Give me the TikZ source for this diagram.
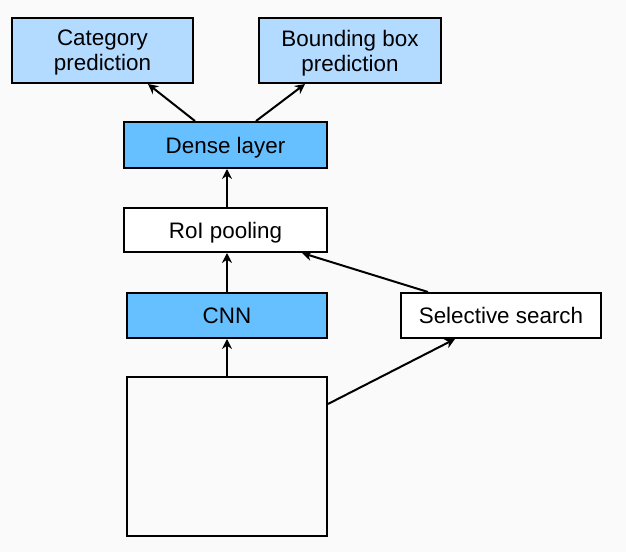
\documentclass[tikz,border=0pt]{standalone}
\usepackage{fontspec}
\setmainfont{Liberation Sans}
\usetikzlibrary{arrows.meta}
\definecolor{bgcol}{RGB}{250,250,250}
\definecolor{lightblue}{RGB}{179,218,255}
\definecolor{midblue}{RGB}{102,192,255}
\begin{document}
\begin{tikzpicture}[x=0.75pt,y=-0.75pt,
    box/.style={draw,line width=1.5pt,fill=white,align=center,inner sep=0pt,text depth=0pt,
        font=\fontsize{16.8pt}{18.8pt}\selectfont},
    arr/.style={-{Stealth[length=7.5pt,width=7.5pt]},line width=1.5pt}]
            \fill[bgcol] (0,0) rectangle (626,552);
            \useasboundingbox (0,0) rectangle (626,552);
            \node[box,fill=lightblue,minimum width=135.75pt,minimum height=48.75pt] (cat) at (102.5,50.5) {Category\\prediction};
            \node[box,fill=lightblue,minimum width=136.5pt,minimum height=48.75pt] (bbox) at (350,50.5) {Bounding box\\prediction};
            \node[box,fill=midblue,minimum width=152.25pt,minimum height=34.5pt] (dense) at (225.5,145) {Dense layer};
            \node[box,minimum width=152.25pt,minimum height=33pt] (roi) at (225.5,230) {RoI pooling};
            \node[box,fill=midblue,minimum width=150pt,minimum height=33.75pt] (cnn) at (227,315.5) {CNN};
            \node[box,minimum width=150pt,minimum height=33.75pt] (sel) at (501,315.5) {Selective search};
            \node[box,fill=bgcol,minimum width=150pt,minimum height=119.25pt] (img) at (227,456.5) {};
            \draw[arr] ([xshift=-22.9pt]dense.north)--([xshift=34.1pt]cat.south);
            \draw[arr] ([xshift=22.9pt]dense.north)--([xshift=-33.75pt]bbox.south);
            \draw[arr] (cnn.north |- roi.north)--(cnn.north |- dense.south);
            \draw[arr] (cnn.north)--(cnn.north |- roi.south);
            \draw[arr] (img)--(cnn);
            \draw[arr] ([yshift=39.4pt]img.east)--([xshift=-34.5pt]sel.south);
            \draw[arr] ([xshift=-54.75pt]sel.north)--([xshift=57.4pt]roi.south);
        \end{tikzpicture}
\end{document}
